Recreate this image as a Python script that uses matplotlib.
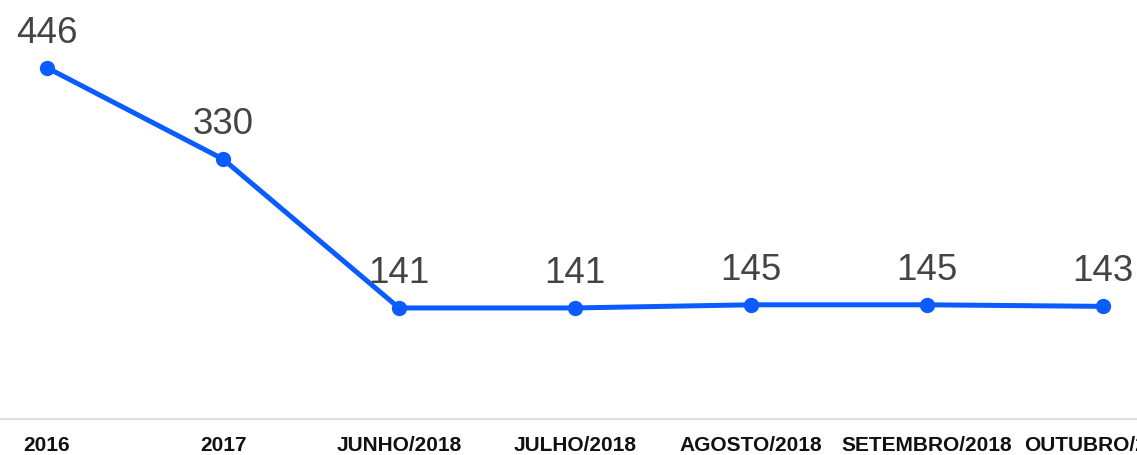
import matplotlib.pyplot as plt

categories = ["2016", "2017", "JUNHO/2018", "JULHO/2018", "AGOSTO/2018",
              "SETEMBRO/2018", "OUTUBRO/2018"]
values = [446, 330, 141, 141, 145, 145, 143]

plt.rcParams['font.family'] = ['Liberation Sans', 'DejaVu Sans']

fig = plt.figure(figsize=(11.37, 4.55), dpi=100)
# axes bottom sits on the gray baseline (pixel ~419 from top)
ax = fig.add_axes([0, 36 / 455, 1, 419 / 455])

x = list(range(len(categories)))
ax.plot(x, values, color='#0b5cff', linewidth=3.6, marker='o',
        markersize=10, solid_capstyle='round', zorder=3, clip_on=False)

# value labels above each point
for xi, v in zip(x, values):
    ax.annotate(f'{v}', (xi, v), xytext=(0, 18), textcoords='offset points',
                ha='center', va='baseline', fontsize=26.5, color='#444444')

ax.set_xlim(-47 / 176, 6 + 34 / 176)
ax.set_ylim(0, 532)

# hide spines/ticks, draw light baseline
for s in ax.spines.values():
    s.set_visible(False)
ax.set_xticks([])
ax.set_yticks([])
ax.axhline(0, color='#dddddd', linewidth=1.5, clip_on=False)

# bold category labels under the baseline
for xi, lab in zip(x, categories):
    ax.annotate(lab, (xi, 0), xytext=(0, -19), textcoords='offset points',
                ha='center', va='center', fontsize=15, fontweight='bold',
                color='#111111', annotation_clip=False)

fig.savefig('out.png', dpi=100, facecolor='white')
